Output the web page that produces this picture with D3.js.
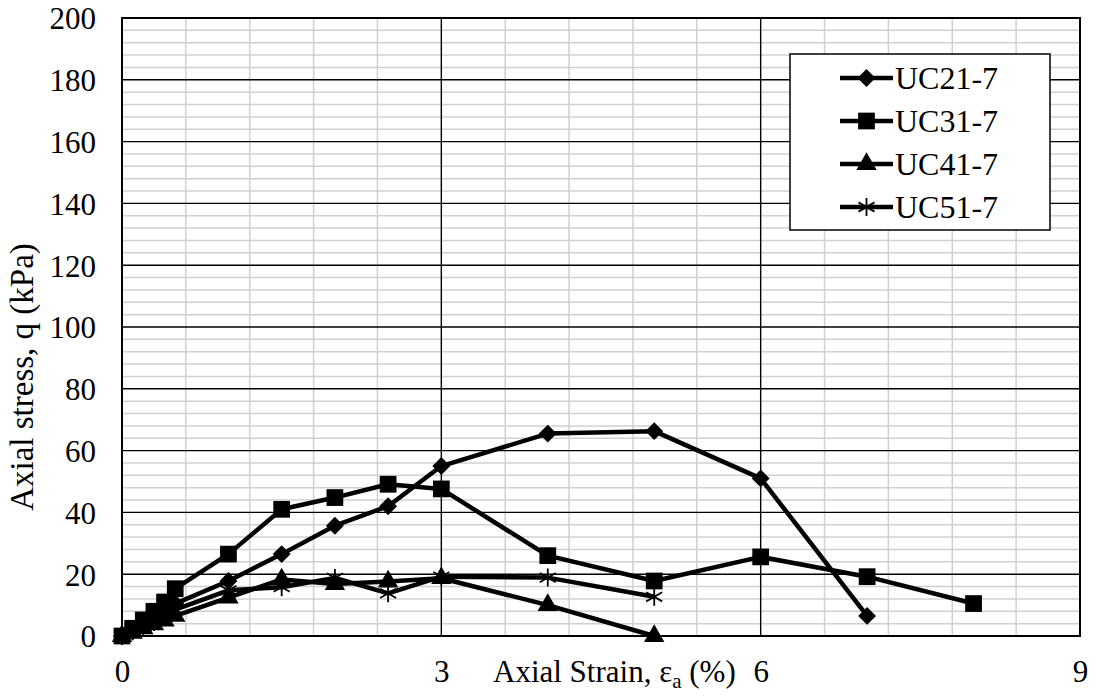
<!DOCTYPE html>
<html>
<head>
<meta charset="utf-8">
<script src="https://cdn.jsdelivr.net/npm/d3@7/dist/d3.min.js"></script>
</head>
<body style="margin:0">
<svg id="chart" width="1096" height="697" style="font-family: 'Liberation Serif', serif"></svg>
<script>
// Unconfined compression tests: axial strain (%) vs axial stress q (kPa)
const seriesNames = ["UC21-7", "UC31-7", "UC41-7", "UC51-7"];

const strainUC21 = [0, 0.1, 0.2, 0.3, 0.4, 0.5, 1, 1.5, 2, 2.5, 3, 4, 5, 6, 7];
const stressUC21 = [0, 1.5, 3.5, 5.5, 8, 10.5, 17.8, 26.5, 35.7, 42, 55, 65.5, 66.3, 51, 6.5];

const strainUC31 = [0, 0.1, 0.2, 0.3, 0.4, 0.5, 1, 1.5, 2, 2.5, 3, 4, 5, 6, 7, 8];
const stressUC31 = [0, 2.5, 5.2, 8, 11, 15.3, 26.5, 41, 44.8, 49.1, 47.6, 26, 17.8, 25.6, 19.2, 10.5];

const strainUC41 = [0, 0.1, 0.2, 0.3, 0.4, 0.5, 1, 1.5, 2, 2.5, 3, 4, 5];
const stressUC41 = [0, 1, 2.5, 3.8, 5, 6.5, 12.4, 18.3, 16.8, 17.6, 18.7, 10, 0];

const strainUC51 = [0, 0.1, 0.2, 0.3, 0.4, 0.5, 1, 1.5, 2, 2.5, 3, 4, 5];
const stressUC51 = [0, 1.5, 3, 4.5, 6.5, 8.5, 14.8, 15.8, 18.8, 13.8, 19.2, 18.9, 12.7];

const xTickValues = [0, 3, 6, 9];
const yTickValues = [0, 20, 40, 60, 80, 100, 120, 140, 160, 180, 200];
const xTitle = "Axial Strain, ";
const yTitle = "Axial stress, q (kPa)";

const series = [
  { name: seriesNames[0], x: strainUC21, y: stressUC21, marker: "diamond" },
  { name: seriesNames[1], x: strainUC31, y: stressUC31, marker: "square" },
  { name: seriesNames[2], x: strainUC41, y: stressUC41, marker: "triangle" },
  { name: seriesNames[3], x: strainUC51, y: stressUC51, marker: "star" }
];

const svg = d3.select("#chart");
const plot = { left: 122, right: 1080, top: 18, bottom: 636 };

const x = d3.scaleLinear().domain([0, 9]).range([plot.left, plot.right]);
const y = d3.scaleLinear().domain([0, 200]).range([plot.bottom, plot.top]);

function serif(sel, size) {
  sel.style("font-family", '"Liberation Serif"').style("font-size", size + "px")
     .attr("font-family", "Liberation Serif").attr("font-size", size);
  return sel;
}

// minor gridlines: every 0.6 % strain and every 4 kPa
const xMinor = d3.range(0, 9.0001, 0.6).filter(v => Math.abs(v / 3 - Math.round(v / 3)) > 1e-6);
const yMinor = d3.range(0, 200.0001, 4).filter(v => v % 20 !== 0);

const grid = svg.append("g");
grid.selectAll("line.xminor").data(xMinor).join("line")
  .attr("x1", d => x(d)).attr("x2", d => x(d))
  .attr("y1", plot.top).attr("y2", plot.bottom)
  .attr("stroke", "#d0d0d0").attr("stroke-width", 1.5);
grid.selectAll("line.yminor").data(yMinor).join("line")
  .attr("x1", plot.left).attr("x2", plot.right)
  .attr("y1", d => y(d)).attr("y2", d => y(d))
  .attr("stroke", "#d0d0d0").attr("stroke-width", 1.5);

// major gridlines
grid.selectAll("line.xmajor").data(xTickValues).join("line")
  .attr("x1", d => x(d)).attr("x2", d => x(d))
  .attr("y1", plot.top).attr("y2", plot.bottom)
  .attr("stroke", "#000").attr("stroke-width", 1.4);
grid.selectAll("line.ymajor").data(yTickValues).join("line")
  .attr("x1", plot.left).attr("x2", plot.right)
  .attr("y1", d => y(d)).attr("y2", d => y(d))
  .attr("stroke", "#000").attr("stroke-width", 1.4);

// axes (labels only; the frame is drawn separately)
const xAxis = d3.axisBottom(x).tickValues(xTickValues).tickSize(0).tickPadding(0);
const gx = svg.append("g").attr("transform", `translate(0,${plot.bottom})`).call(xAxis);
gx.attr("font-family", null).attr("font-size", null);
gx.select(".domain").remove();
serif(gx.selectAll("text").attr("y", 46).attr("dy", 0).attr("fill", "#000"), 31);

const yAxis = d3.axisLeft(y).tickValues(yTickValues).tickSize(0).tickPadding(0);
const gy = svg.append("g").attr("transform", `translate(${plot.left - 26},0)`).call(yAxis);
gy.attr("font-family", null).attr("font-size", null);
gy.select(".domain").remove();
serif(gy.selectAll("text").attr("x", 0).attr("dy", "0.35em").attr("fill", "#000"), 31);

// plot frame
svg.append("rect")
  .attr("x", plot.left).attr("y", plot.top)
  .attr("width", plot.right - plot.left).attr("height", plot.bottom - plot.top)
  .attr("fill", "none").attr("stroke", "#000").attr("stroke-width", 2);

// axis titles
const xt = serif(svg.append("text").attr("x", 493).attr("y", 682), 31);
xt.append("tspan").text(xTitle + "ε");
xt.append("tspan").text("a").style("font-size", "21px").attr("dy", 6);
xt.append("tspan").text(" (%)").attr("dy", -6);

serif(svg.append("text")
  .attr("transform", "translate(33,377) rotate(-90)")
  .attr("text-anchor", "middle"), 33)
  .text(yTitle);

// marker shapes
const markerPath = {
  diamond: d3.symbol(d3.symbolSquare, 160)(),
  square: d3.symbol(d3.symbolSquare, 280)(),
  triangle: d3.symbol(d3.symbolTriangle, 180)(),
  star: "M0,-9L0,9M-8,-4.6L8,4.6M-8,4.6L8,-4.6"
};
const markerRotate = { diamond: 45, square: 0, triangle: 0, star: 0 };

function drawMarker(g, type, cx, cy) {
  const p = g.append("path")
    .attr("d", markerPath[type])
    .attr("transform", `translate(${cx},${cy}) rotate(${markerRotate[type]})`);
  if (type === "star") {
    p.attr("fill", "none").attr("stroke", "#000").attr("stroke-width", 1.8);
  } else {
    p.attr("fill", "#000");
  }
}

const line = d3.line().x(d => x(d[0])).y(d => y(d[1]));

series.forEach(s => {
  const pts = s.x.map((v, i) => [v, s.y[i]]);
  const g = svg.append("g");
  g.append("path").datum(pts)
    .attr("d", line)
    .attr("fill", "none").attr("stroke", "#000")
    .attr("stroke-width", 4.5).attr("stroke-linejoin", "round");
  pts.forEach(p => drawMarker(g, s.marker, x(p[0]), y(p[1])));
});

// legend
const legend = svg.append("g");
legend.append("rect")
  .attr("x", 790).attr("y", 54).attr("width", 260).attr("height", 176)
  .attr("fill", "#fff").attr("stroke", "#000").attr("stroke-width", 1.5);
series.forEach((s, i) => {
  const cy = 78 + i * 43;
  legend.append("line")
    .attr("x1", 840).attr("x2", 893).attr("y1", cy).attr("y2", cy)
    .attr("stroke", "#000").attr("stroke-width", 4.5);
  drawMarker(legend, s.marker, 866.5, cy);
  serif(legend.append("text")
    .attr("x", 895).attr("y", cy).attr("dy", "0.35em"), 32)
    .text(s.name);
});
</script>
</body>
</html>
